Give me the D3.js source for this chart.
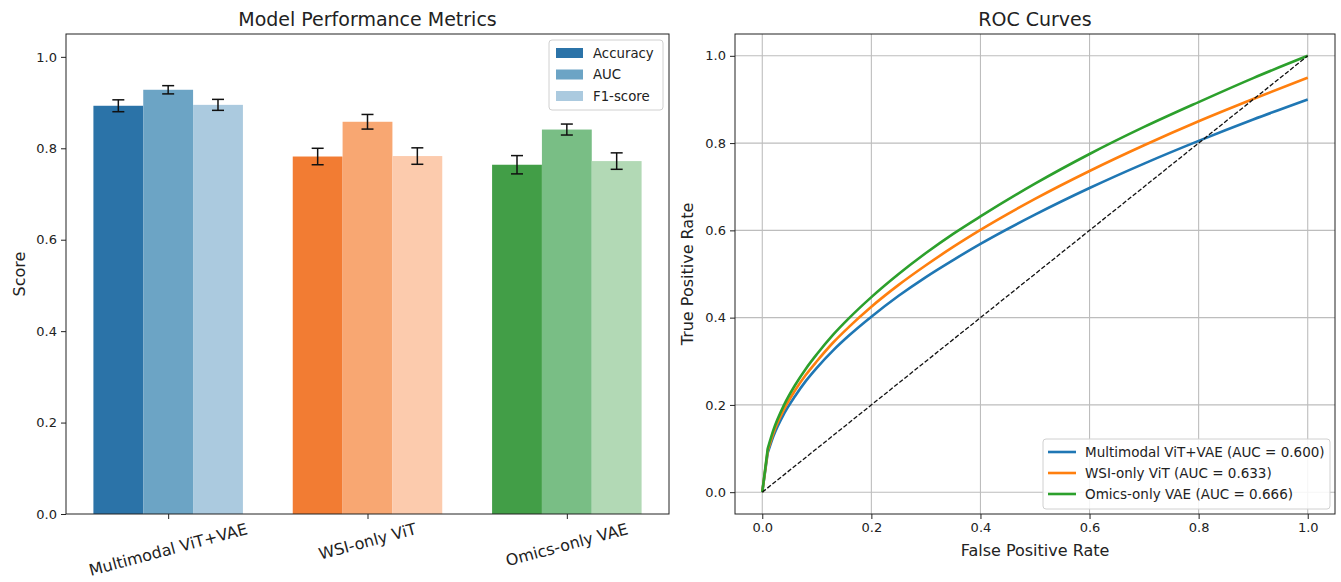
<!DOCTYPE html>
<html><head><meta charset="utf-8">
<script src="https://cdn.jsdelivr.net/npm/d3@7"></script>
<style>body{margin:0;background:#fff}text{font-family:"DejaVu Sans",sans-serif;fill:#222}</style>
</head><body><svg id="c" width="1341" height="582"></svg>
<script>
// ---- data ----
const models = ["Multimodal ViT+VAE", "WSI-only ViT", "Omics-only VAE"];
const metrics = ["Accuracy", "AUC", "F1-score"];
const accuracy = [0.893, 0.782, 0.764];
const accErr = [0.013, 0.018, 0.020];
const auc = [0.928, 0.858, 0.841];
const aucErr = [0.009, 0.016, 0.012];
const f1 = [0.895, 0.783, 0.772];
const f1Err = [0.012, 0.018, 0.018];
const barColors = [
  ["#2b73a8", "#6ca4c5", "#abcadf"],
  ["#f27c33", "#f8a772", "#fccbad"],
  ["#429e47", "#79be85", "#b2d9b5"]
];
const scoreTicks = [0, 0.2, 0.4, 0.6, 0.8, 1.0];

const fpr = [0, 0.01, 0.02, 0.04, 0.06, 0.08, 0.1, 0.13, 0.16, 0.2, 0.25, 0.3, 0.35, 0.4, 0.5, 0.6, 0.7, 0.8, 0.9, 1.0];
const tprMultimodal = [0, 0.09, 0.127, 0.18, 0.22, 0.255, 0.285, 0.325, 0.36, 0.402, 0.45, 0.493, 0.532, 0.569, 0.636, 0.697, 0.753, 0.805, 0.854, 0.90];
const tprWSI = [0, 0.095, 0.134, 0.19, 0.233, 0.269, 0.300, 0.343, 0.38, 0.425, 0.475, 0.52, 0.562, 0.601, 0.672, 0.736, 0.795, 0.85, 0.901, 0.95];
const tprOmics = [0, 0.10, 0.141, 0.20, 0.245, 0.283, 0.316, 0.361, 0.40, 0.447, 0.50, 0.548, 0.592, 0.632, 0.707, 0.775, 0.837, 0.894, 0.949, 1.0];
const rocLabels = ["Multimodal ViT+VAE (AUC = 0.600)", "WSI-only ViT (AUC = 0.633)", "Omics-only VAE (AUC = 0.666)"];
const rocColors = ["#1f77b4", "#ff7f0e", "#2ca02c"];
const rateTicks = [0, 0.2, 0.4, 0.6, 0.8, 1.0];

const svg = d3.select("#c");
const fmt = d3.format(".1f");

// ---- left chart ----
const L = {x0: 66, x1: 669, y0: 34, y1: 514};
const xb = d3.scaleLinear().domain([-0.5125, 2.5125]).range([L.x0, L.x1]);
const yb = d3.scaleLinear().domain([0, 1.05]).range([L.y1, L.y0]);
const bw = 0.25;
const series = [[accuracy, accErr], [auc, aucErr], [f1, f1Err]];
const gL = svg.append("g");

series.forEach((s, j) => {
  models.forEach((m, i) => {
    const cx = i + (j - 1) * bw;
    gL.append("rect")
      .attr("x", xb(cx - bw / 2)).attr("width", xb(cx + bw / 2) - xb(cx - bw / 2))
      .attr("y", yb(s[0][i])).attr("height", yb(0) - yb(s[0][i]))
      .attr("fill", barColors[i][j]);
  });
});
series.forEach((s, j) => {
  models.forEach((m, i) => {
    const cx = xb(i + (j - 1) * bw);
    const lo = yb(s[0][i] - s[1][i]), hi = yb(s[0][i] + s[1][i]);
    gL.append("line").attr("x1", cx).attr("x2", cx).attr("y1", lo).attr("y2", hi).attr("stroke", "#111").attr("stroke-width", 1.5);
    [lo, hi].forEach(v => gL.append("line").attr("x1", cx - 6).attr("x2", cx + 6).attr("y1", v).attr("y2", v).attr("stroke", "#111").attr("stroke-width", 1.5));
  });
});
gL.append("rect").attr("x", L.x0).attr("y", L.y0).attr("width", L.x1 - L.x0).attr("height", L.y1 - L.y0)
  .attr("fill", "none").attr("stroke", "#222").attr("stroke-width", 1);

const yAxL = gL.append("g").attr("transform", `translate(${L.x0},0)`)
  .call(d3.axisLeft(yb).tickValues(scoreTicks).tickFormat(fmt).tickSize(5).tickPadding(4));
yAxL.select(".domain").remove();
yAxL.selectAll("text").attr("font-size", 13).attr("fill", "#222");
yAxL.selectAll("line").attr("stroke", "#222");

const xAxL = gL.append("g").attr("transform", `translate(0,${L.y1})`)
  .call(d3.axisBottom(xb).tickValues([0, 1, 2]).tickFormat("").tickSize(5));
xAxL.select(".domain").remove();
xAxL.selectAll("line").attr("stroke", "#222");

const rot = 15 * Math.PI / 180;
models.forEach((m, i) => {
  const t = gL.append("text").attr("font-size", 16).attr("text-anchor", "middle")
    .attr("dominant-baseline", "central").text(m);
  const len = t.node().getComputedTextLength();
  const h = len * Math.sin(rot) + 16 * 1.1 * Math.cos(rot);
  const cy = 520 + h / 2;
  t.attr("transform", `translate(${xb(i)},${cy}) rotate(-15)`);
});

gL.append("text").attr("x", (L.x0 + L.x1) / 2).attr("y", 26).attr("text-anchor", "middle")
  .attr("font-size", 19).text("Model Performance Metrics");
gL.append("text").attr("transform", `translate(25,${(L.y0 + L.y1) / 2}) rotate(-90)`)
  .attr("text-anchor", "middle").attr("font-size", 16).text("Score");

// legend left
const lgL = gL.append("g");
lgL.append("rect").attr("x", 549).attr("y", 40).attr("width", 114).attr("height", 70).attr("rx", 3)
  .attr("fill", "#fff").attr("fill-opacity", 0.85).attr("stroke", "#d0d0d0");
metrics.forEach((m, j) => {
  const cy = 53 + j * 21.5;
  lgL.append("rect").attr("x", 556).attr("y", cy - 5).attr("width", 27).attr("height", 10).attr("fill", barColors[0][j]);
  lgL.append("text").attr("x", 593).attr("y", cy).attr("dominant-baseline", "central").attr("font-size", 13.3).text(m);
});

// ---- right chart ----
const R = {x0: 735, x1: 1335, y0: 34, y1: 514};
const xr = d3.scaleLinear().domain([-0.05, 1.05]).range([R.x0, R.x1]);
const yr = d3.scaleLinear().domain([-0.05, 1.05]).range([R.y1, R.y0]);
const gR = svg.append("g");

rateTicks.forEach(v => {
  gR.append("line").attr("x1", xr(v)).attr("x2", xr(v)).attr("y1", R.y0).attr("y2", R.y1).attr("stroke", "#bdbdbd").attr("stroke-width", 1.1);
  gR.append("line").attr("y1", yr(v)).attr("y2", yr(v)).attr("x1", R.x0).attr("x2", R.x1).attr("stroke", "#bdbdbd").attr("stroke-width", 1.1);
});

const smooth = d3.line().x(d => xr(d[0])).y(d => yr(d[1])).curve(d3.curveMonotoneX);
[tprMultimodal, tprWSI, tprOmics].forEach((tpr, k) => {
  const pts = fpr.map((f, i) => [f, tpr[i]]);
  const d = `M${xr(pts[0][0])},${yr(pts[0][1])}L` + smooth(pts.slice(1)).slice(1);
  gR.append("path").attr("d", d)
    .attr("fill", "none").attr("stroke", rocColors[k]).attr("stroke-width", 2.6).attr("stroke-linejoin", "round");
});
const diag = d3.line().x(d => xr(d[0])).y(d => yr(d[1]));
gR.append("path").attr("d", diag([[0, 0], [1, 1]])).attr("fill", "none").attr("stroke", "#111")
  .attr("stroke-width", 1.3).attr("stroke-dasharray", "4.5,2");

gR.append("rect").attr("x", R.x0).attr("y", R.y0).attr("width", R.x1 - R.x0).attr("height", R.y1 - R.y0)
  .attr("fill", "none").attr("stroke", "#222").attr("stroke-width", 1);

const yAxR = gR.append("g").attr("transform", `translate(${R.x0},0)`)
  .call(d3.axisLeft(yr).tickValues(rateTicks).tickFormat(fmt).tickSize(5).tickPadding(4));
yAxR.select(".domain").remove();
yAxR.selectAll("text").attr("font-size", 13).attr("fill", "#222");
yAxR.selectAll("line").attr("stroke", "#222");
const xAxR = gR.append("g").attr("transform", `translate(0,${R.y1})`)
  .call(d3.axisBottom(xr).tickValues(rateTicks).tickFormat(fmt).tickSize(5).tickPadding(4));
xAxR.select(".domain").remove();
xAxR.selectAll("text").attr("font-size", 13).attr("fill", "#222");
xAxR.selectAll("line").attr("stroke", "#222");

gR.append("text").attr("x", (R.x0 + R.x1) / 2).attr("y", 26).attr("text-anchor", "middle").attr("font-size", 19).text("ROC Curves");
gR.append("text").attr("x", (R.x0 + R.x1) / 2).attr("y", 556).attr("text-anchor", "middle").attr("font-size", 16).text("False Positive Rate");
gR.append("text").attr("transform", `translate(693,${(R.y0 + R.y1) / 2}) rotate(-90)`)
  .attr("text-anchor", "middle").attr("font-size", 16).text("True Positive Rate");

const lgR = gR.append("g");
lgR.append("rect").attr("x", 1043).attr("y", 439).attr("width", 287).attr("height", 70).attr("rx", 3)
  .attr("fill", "#fff").attr("fill-opacity", 0.85).attr("stroke", "#d0d0d0");
rocLabels.forEach((lab, k) => {
  const cy = 452 + k * 21;
  lgR.append("line").attr("x1", 1048).attr("x2", 1076).attr("y1", cy).attr("y2", cy).attr("stroke", rocColors[k]).attr("stroke-width", 2.6);
  lgR.append("text").attr("x", 1085).attr("y", cy).attr("dominant-baseline", "central").attr("font-size", 13.5).text(lab);
});
</script></body></html>
